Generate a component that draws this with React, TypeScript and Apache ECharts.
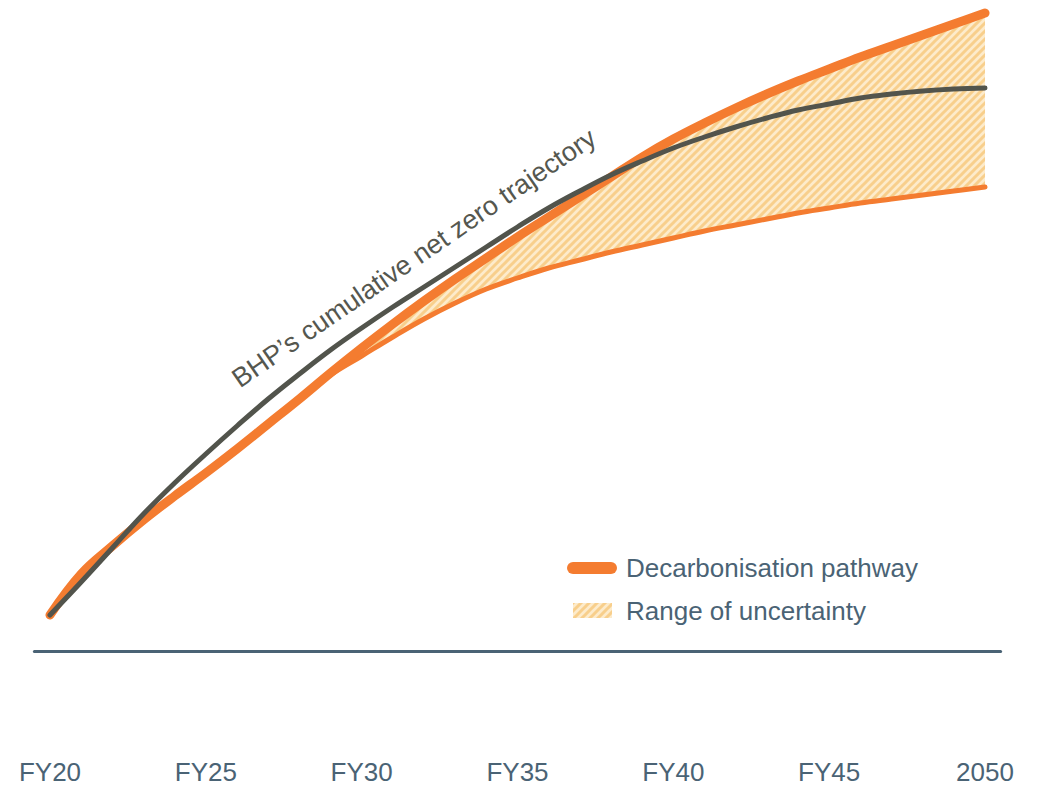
import React, { useEffect, useRef } from 'react';
import * as echarts from 'echarts';

// Financial years shown along the horizontal axis (one category per year)
const years = [
  '2020', '2021', '2022', '2023', '2024', '2025', '2026', '2027', '2028', '2029', '2030',
  '2031', '2032', '2033', '2034', '2035', '2036', '2037', '2038', '2039', '2040',
  '2041', '2042', '2043', '2044', '2045', '2046', '2047', '2048', '2049', '2050',
];

// Labels printed every five years
const tickLabels = ['FY20', 'FY25', 'FY30', 'FY35', 'FY40', 'FY45', '2050'];

// Cumulative abatement (index units)
const netZeroTrajectory = [
  36, 69, 103, 137, 168, 197, 225, 252, 277, 301, 323,
  344, 364, 384, 404, 424, 443, 460, 476, 490, 503,
  514, 524, 533, 541, 547, 553, 557, 560, 562, 563,
];

const decarbonisationPathway = [
  36, 77, 105, 131, 155, 178, 202, 227, 252, 278, 303,
  327, 350, 372, 393, 414, 434, 454, 474, 494, 512,
  528, 543, 557, 570, 582, 594, 605, 616, 627, 638,
];

// Lower bound of the uncertainty range (branches off the pathway after FY28)
const uncertaintyLower: (number | null)[] = [
  null, null, null, null, null, null, null, 227, 252, 276, 295,
  314, 332, 348, 362, 373, 383, 391, 399, 406, 413,
  420, 426, 432, 438, 443, 448, 452, 456, 460, 464,
];

const ORANGE = '#F47C30';
const DARK = '#52544C';
const SLATE = '#4A6375';
const FONT = '"Liberation Sans", Arial, Helvetica, sans-serif';

function hatchPattern() {
  const size = 8;
  const canvas = document.createElement('canvas');
  canvas.width = size;
  canvas.height = size;
  const ctx = canvas.getContext('2d')!;
  ctx.fillStyle = '#FDEBCB';
  ctx.fillRect(0, 0, size, size);
  ctx.strokeStyle = '#F8CF8C';
  ctx.lineWidth = 3;
  ctx.beginPath();
  ctx.moveTo(0, size);
  ctx.lineTo(size, 0);
  ctx.moveTo(-2, 2);
  ctx.lineTo(2, -2);
  ctx.moveTo(size - 2, size + 2);
  ctx.lineTo(size + 2, size - 2);
  ctx.stroke();
  return {
    image: canvas.toDataURL(),
    repeat: 'repeat' as const,
    imageWidth: size,
    imageHeight: size,
  };
}

export default function App() {
  const ref = useRef<HTMLDivElement>(null);

  useEffect(() => {
    if (!ref.current) return;
    const chart = echarts.init(ref.current, null, { renderer: 'svg' });
    const hatch = hatchPattern();

    const bandWidth = uncertaintyLower.map((lo, i) =>
      lo == null ? null : decarbonisationPathway[i] - lo
    );

    chart.setOption({
      animation: false,
      grid: { left: 34.4, right: 39.4, top: 0, bottom: 136 },
      xAxis: {
        type: 'category',
        data: years,
        boundaryGap: true,
        axisLine: { show: true, lineStyle: { color: SLATE, width: 3 } },
        axisTick: { show: false },
        splitLine: { show: false },
        axisLabel: {
          interval: 4,
          margin: 108,
          fontSize: 26,
          fontFamily: FONT,
          color: SLATE,
          formatter: (_v: string, idx: number) => tickLabels[idx / 5] ?? '',
        },
      },
      yAxis: {
        type: 'value',
        min: 0,
        max: 651,
        show: false,
      },
      series: [
        {
          name: 'Range lower',
          type: 'line',
          stack: 'range',
          data: uncertaintyLower,
          smooth: 0.4,
          symbol: 'none',
          z: 3,
          lineStyle: { color: ORANGE, width: 5, cap: 'round', join: 'round' },
        },
        {
          name: 'Range of uncertainty',
          type: 'line',
          stack: 'range',
          data: bandWidth,
          smooth: 0.4,
          symbol: 'none',
          z: 1,
          lineStyle: { width: 0, opacity: 0 },
          areaStyle: { color: hatch, opacity: 1 },
        },
        {
          name: 'Decarbonisation pathway',
          type: 'line',
          data: decarbonisationPathway,
          smooth: 0.4,
          symbol: 'none',
          z: 4,
          lineStyle: { color: ORANGE, width: 9, cap: 'round', join: 'round' },
        },
        {
          name: "BHP's cumulative net zero trajectory",
          type: 'line',
          data: netZeroTrajectory,
          smooth: 0.4,
          symbol: 'none',
          z: 5,
          lineStyle: { color: DARK, width: 5, cap: 'round', join: 'round' },
        },
      ],
      graphic: [
        {
          type: 'text',
          x: 235,
          y: 381,
          rotation: (34.5 * Math.PI) / 180,
          z: 10,
          style: {
            text: 'BHP\u2019s cumulative net zero trajectory',
            fontSize: 27,
            fontFamily: FONT,
            fill: '#55574F',
            align: 'left',
            verticalAlign: 'middle',
          },
        },
        {
          type: 'line',
          shape: { x1: 573, y1: 568, x2: 611, y2: 568 },
          style: { stroke: ORANGE, lineWidth: 12, lineCap: 'round' },
        },
        {
          type: 'text',
          x: 626,
          y: 568,
          style: {
            text: 'Decarbonisation pathway',
            fontSize: 26,
            fontFamily: FONT,
            fill: SLATE,
            align: 'left',
            verticalAlign: 'middle',
          },
        },
        {
          type: 'rect',
          shape: { x: 573, y: 603, width: 39, height: 15 },
          style: { fill: hatch },
        },
        {
          type: 'text',
          x: 626,
          y: 611,
          style: {
            text: 'Range of uncertainty',
            fontSize: 26,
            fontFamily: FONT,
            fill: SLATE,
            align: 'left',
            verticalAlign: 'middle',
          },
        },
      ],
    });

    return () => chart.dispose();
  }, []);

  return (
    <div
      ref={ref}
      style={{ position: 'fixed', left: 0, top: 0, width: 1040, height: 787, background: '#fff' }}
    />
  );
}
